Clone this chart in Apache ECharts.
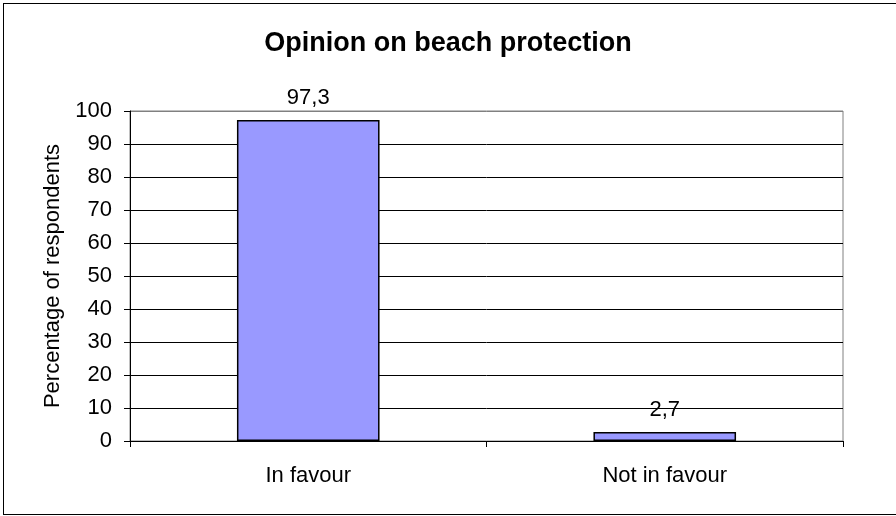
<!DOCTYPE html>
<html>
<head>
<meta charset="utf-8">
<script src="https://cdn.jsdelivr.net/npm/echarts@6/dist/echarts.min.js"></script>
<style>
  html, body { margin: 0; padding: 0; background: #fff; overflow: hidden; }
  #frame { position: absolute; left: 3px; top: 3px; width: 920px; height: 512px; border: 1px solid #000; border-right: none; box-sizing: border-box; }
  #chart { position: absolute; left: 0; top: 0; width: 896px; height: 516px; }
</style>
</head>
<body>
<div id="frame"></div>
<div id="chart"></div>
<script>
const categories = ['In favour', 'Not in favour'];
const values = [97.3, 2.7];
const yTicks = { min: 0, max: 100, interval: 10 };

const font = '"Liberation Sans", Arial, sans-serif';
// grid lines are black, the top one doubles as the grey plot border
const splitColors = [];
for (let v = yTicks.min; v <= yTicks.max; v += yTicks.interval) {
  splitColors.push(v === yTicks.max ? '#808080' : '#000000');
}

const chart = echarts.init(document.getElementById('chart'), null, { renderer: 'canvas' });
chart.setOption({
  backgroundColor: 'transparent',
  animation: false,
  title: {
    text: 'Opinion on beach protection',
    left: 'center',
    top: 25,
    textStyle: { fontFamily: font, fontSize: 27, fontWeight: 'bold', color: '#000' }
  },
  grid: {
    left: 130, right: 53, top: 111, bottom: 75,
    show: true, borderColor: '#808080', borderWidth: 1, backgroundColor: 'transparent'
  },
  xAxis: {
    type: 'category',
    data: categories,
    axisLine: { lineStyle: { color: '#000', width: 1 } },
    axisTick: { show: true, length: 6, alignWithLabel: false, lineStyle: { color: '#000' } },
    axisLabel: { fontFamily: font, fontSize: 22, color: '#000', margin: 24 },
    splitLine: { show: false }
  },
  yAxis: {
    type: 'value',
    min: yTicks.min, max: yTicks.max, interval: yTicks.interval,
    name: 'Percentage of respondents',
    nameLocation: 'middle',
    nameGap: 66,
    nameRotate: 90,
    nameTextStyle: { fontFamily: font, fontSize: 22, color: '#000' },
    axisLine: { show: true, lineStyle: { color: '#000', width: 1 } },
    axisTick: { show: true, length: 6, lineStyle: { color: '#000' } },
    axisLabel: { fontFamily: font, fontSize: 22, color: '#000', margin: 18 },
    splitLine: { show: true, lineStyle: { color: splitColors, width: 1 } }
  },
  series: [{
    type: 'bar',
    data: values,
    barWidth: '40%',
    itemStyle: { color: '#9999FF', borderColor: '#000', borderWidth: 1.5 },
    label: {
      show: true,
      position: 'top',
      distance: 11,
      fontFamily: font, fontSize: 22, color: '#000',
      formatter: p => String(p.value).replace('.', ',')
    }
  }]
});
</script>
</body>
</html>
